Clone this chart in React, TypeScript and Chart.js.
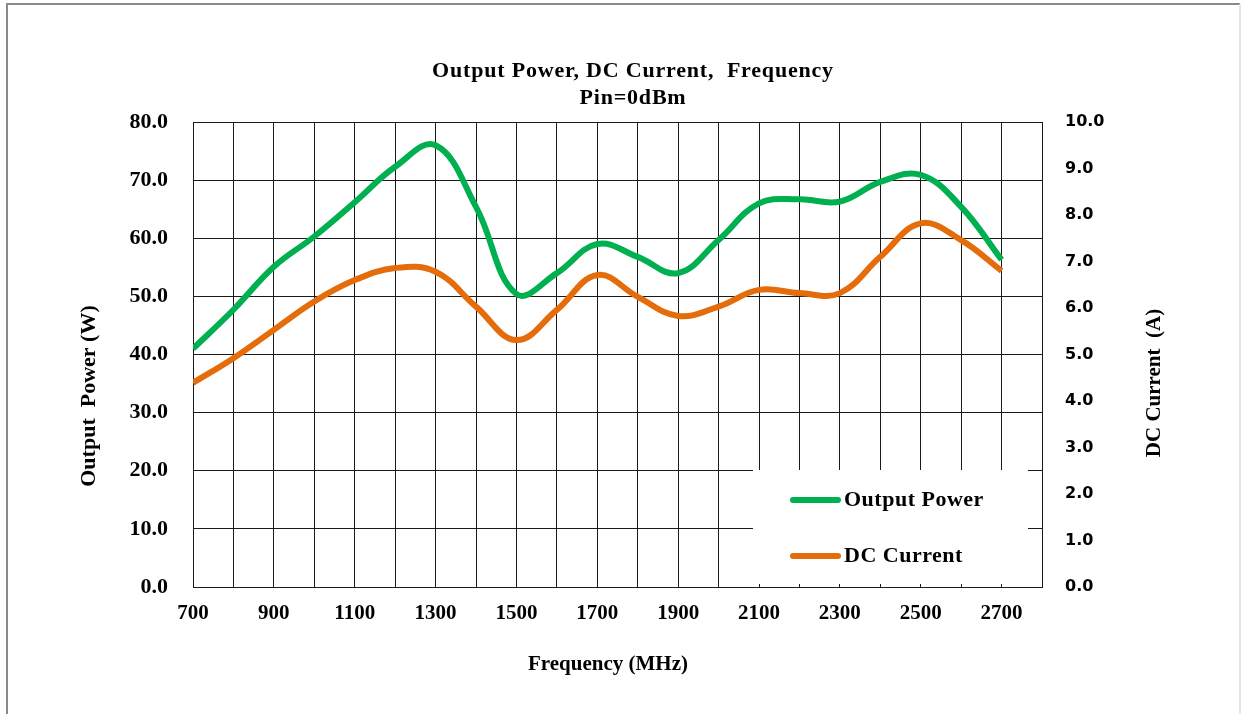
import React, { useEffect, useRef } from "react";
import { Chart, registerables } from "chart.js";

Chart.register(...registerables);

const frequencies = [700, 800, 900, 1000, 1100, 1200, 1300, 1400, 1500, 1600, 1700, 1800, 1900, 2000, 2100, 2200, 2300, 2400, 2500, 2600, 2700];
const outputPower = [41.0, 47.7, 55.1, 60.3, 66.2, 72.3, 76.0, 65.4, 50.4, 54.0, 59.0, 56.8, 54.0, 59.7, 66.0, 66.7, 66.3, 69.7, 70.9, 65.4, 56.3];
const dcCurrent = [4.39, 4.92, 5.53, 6.14, 6.6, 6.86, 6.78, 6.03, 5.31, 5.96, 6.71, 6.24, 5.83, 6.03, 6.39, 6.32, 6.32, 7.1, 7.82, 7.46, 6.8];

const titleLines = ["Output Power, DC Current,  Frequency", "Pin=0dBm"];
const xTitle = "Frequency (MHz)";
const yLeftTitle = "Output  Power (W)";
const yRightTitle = "DC Current  (A)";
const seriesNames = ["Output Power", "DC Current"];
const seriesColors = ["#00B050", "#E46C0A"];

const SERIF = "'Liberation Serif', 'Times New Roman', serif";
const SANS = "'DejaVu Sans', Verdana, sans-serif";

export default function App() {
  const ref = useRef<HTMLCanvasElement | null>(null);

  useEffect(() => {
    const canvas = ref.current;
    if (!canvas) return;

    const overlay = {
      id: "overlay",
      beforeDatasetsDraw(chart: any) {
        const ctx = chart.ctx;
        ctx.save();
        ctx.fillStyle = "#ffffff";
        ctx.fillRect(753, 470, 1028 - 753, 584 - 470);
        ctx.restore();
      },
      afterDraw(chart: any) {
        const ctx = chart.ctx;
        ctx.save();
        // frame
        ctx.strokeStyle = "#8a8a8a";
        ctx.lineWidth = 2;
        ctx.beginPath();
        ctx.moveTo(7, 714);
        ctx.lineTo(7, 4);
        ctx.lineTo(1240, 4);
        ctx.stroke();
        ctx.strokeStyle = "#dddddd";
        ctx.lineWidth = 1.5;
        ctx.beginPath();
        ctx.moveTo(1240, 4);
        ctx.lineTo(1240, 714);
        ctx.stroke();

        ctx.fillStyle = "#000";
        ctx.textAlign = "center";
        ctx.textBaseline = "middle";
        ctx.font = `bold 22px ${SERIF}`;
        (ctx as any).letterSpacing = "0.8px";
        ctx.fillText(titleLines[0], 633, 71);
        ctx.fillText(titleLines[1], 633, 98);
        (ctx as any).letterSpacing = "0px";

        ctx.font = `bold 21px ${SERIF}`;
        ctx.fillText(xTitle, 608, 665);

        ctx.font = `bold 22px ${SERIF}`;
        ctx.save();
        ctx.translate(89, 396);
        ctx.rotate(-Math.PI / 2);
        ctx.fillText(yLeftTitle, 0, 0);
        ctx.restore();

        ctx.font = `bold 21px ${SERIF}`;
        ctx.save();
        ctx.translate(1155, 383);
        ctx.rotate(-Math.PI / 2);
        ctx.fillText(yRightTitle, 0, 0);
        ctx.restore();

        // legend
        const ys = [500, 556];
        for (let i = 0; i < 2; i++) {
          ctx.strokeStyle = seriesColors[i];
          ctx.lineWidth = 6;
          ctx.lineCap = "round";
          ctx.beginPath();
          ctx.moveTo(793, ys[i]);
          ctx.lineTo(838, ys[i]);
          ctx.stroke();
          ctx.fillStyle = "#000";
          ctx.textAlign = "left";
          ctx.font = `bold 22px ${SERIF}`;
          (ctx as any).letterSpacing = "0.5px";
          ctx.fillText(seriesNames[i], 844, ys[i]);
          (ctx as any).letterSpacing = "0px";
        }
        ctx.restore();
      },
    };

    const chart = new Chart(canvas, {
      type: "line",
      data: {
        datasets: [
          {
            label: seriesNames[0],
            data: frequencies.map((f, i) => ({ x: f, y: outputPower[i] })),
            borderColor: seriesColors[0],
            borderWidth: 6,
            pointRadius: 0,
            tension: 0.4,
            yAxisID: "y",
          },
          {
            label: seriesNames[1],
            data: frequencies.map((f, i) => ({ x: f, y: dcCurrent[i] })),
            borderColor: seriesColors[1],
            borderWidth: 6,
            pointRadius: 0,
            tension: 0.4,
            yAxisID: "y1",
          },
        ],
      },
      options: {
        animation: false,
        responsive: false,
        layout: { padding: { top: 122, left: 0, right: 0, bottom: 0 } },
        plugins: { legend: { display: false }, title: { display: false }, tooltip: { enabled: false } },
        scales: {
          x: {
            type: "linear",
            min: 700,
            max: 2800,
            afterFit: (s: any) => { s.height = 127; },
            grid: { color: "#1a1a1a", lineWidth: 1, drawTicks: false },
            border: { color: "#1a1a1a", width: 1 },
            ticks: {
              stepSize: 100,
              autoSkip: false,
              maxRotation: 0,
              padding: 14,
              color: "#000",
              font: { family: SERIF, size: 21, weight: "bold" },
              callback: (v: any) => ((v - 700) % 200 === 0 && v <= 2700 ? String(v) : ""),
            },
          },
          y: {
            position: "left",
            min: 0,
            max: 80,
            afterFit: (s: any) => { s.width = 193; },
            grid: { color: "#1a1a1a", lineWidth: 1, drawTicks: false },
            border: { color: "#1a1a1a", width: 1 },
            ticks: {
              stepSize: 10,
              padding: 25,
              color: "#000",
              font: { family: SERIF, size: 22, weight: "bold" },
              callback: (v: any) => Number(v).toFixed(1),
            },
          },
          y1: {
            position: "right",
            min: 0,
            max: 10,
            afterFit: (s: any) => { s.width = 200; },
            grid: { display: false, drawTicks: false },
            border: { color: "#1a1a1a", width: 1 },
            ticks: {
              stepSize: 1,
              padding: 23,
              color: "#000",
              font: { family: SANS, size: 16, weight: "bold" },
              callback: (v: any) => Number(v).toFixed(1),
            },
          },
        },
      },
      plugins: [overlay],
    } as any);

    return () => chart.destroy();
  }, []);

  return (
    <div style={{ position: "absolute", left: 0, top: 0, width: 1242, height: 714, background: "#fff" }}>
      <canvas ref={ref} width={1242} height={714} style={{ display: "block" }} />
    </div>
  );
}
